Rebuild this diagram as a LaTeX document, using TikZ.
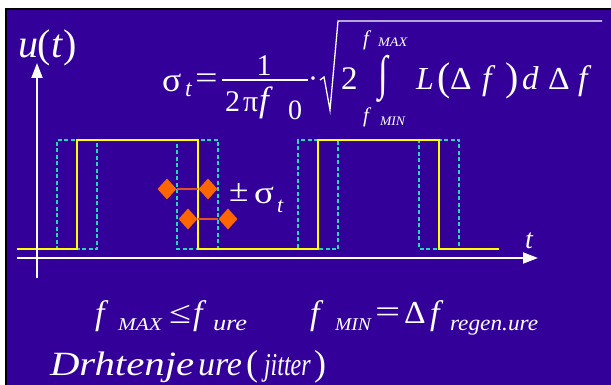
\documentclass[tikz,border=0pt]{standalone}
\usepackage{fontspec}
\setmainfont{Liberation Serif}
\usetikzlibrary{arrows.meta,shapes.geometric}
\definecolor{bg}{RGB}{51,0,153}
\definecolor{sig}{RGB}{255,255,0}
\definecolor{jit}{RGB}{40,215,185}
\definecolor{dia}{RGB}{255,102,0}
\definecolor{dline}{RGB}{230,80,30}
\newcommand\fs[1]{\fontsize{#1}{#1}\selectfont}
\newcommand\sx[2]{\scalebox{#1}[1]{#2}}
\begin{document}
\begin{tikzpicture}[x=1pt,y=-1pt,
  tx/.style={anchor=base west,inner sep=0pt,outer sep=0pt,text=white},
  tc/.style={anchor=base,inner sep=0pt,outer sep=0pt,text=white},
  axis/.style={draw=white,line width=1.8pt,-{Triangle[length=15pt,width=11pt]}},
  yel/.style={draw=sig,line width=1.8pt},
  dsh/.style={draw=jit,line width=1.6pt,dash pattern=on 4pt off 2.5pt},
  dmd/.style={diamond,fill=dia,inner sep=0pt,minimum width=19pt,minimum height=21pt},
  bar/.style={draw=dline,line width=1.6pt}]
\useasboundingbox (0,0) rectangle (611,385);
\fill[white] (0,0) rectangle (611,385);
\fill[black] (5,8) rectangle (611,385);
\fill[bg] (7,10) rectangle (611,385);

% jittered waveforms
\draw[dsh] (17,249) -- (57,249) -- (57,140) -- (177,140) -- (177,249) -- (298,249) -- (298,140) -- (419,140) -- (419,249) -- (499,249);
\draw[dsh] (17,249) -- (97,249) -- (97,140) -- (218,140) -- (218,249) -- (338,249) -- (338,140) -- (459,140) -- (459,249) -- (499,249);
% ideal waveform
\draw[yel] (17,249) -- (77,249) -- (77,140) -- (198,140) -- (198,249) -- (318,249) -- (318,140) -- (439,140) -- (439,249) -- (499,249);

% axes
\coordinate (vb) at (37,278);
\coordinate (vt) at (37,63);
\coordinate (hl) at (17,258);
\coordinate (hr) at (538,258);
\draw[axis] (vb) -- (vt);
\draw[axis] (hl) -- (hr);

% jitter markers
\node[dmd] (d1) at (167,189) {};
\node[dmd] (d2) at (208,189) {};
\node[dmd] (d3) at (188,219) {};
\node[dmd] (d4) at (228,219) {};
\draw[bar] (d1.east) -- (d2.west);
\draw[bar] (d3.east) -- (d4.west);

% labels
\node[tx,font=\fs{40}] (ut) at (18,58) {\textit{u}(\textit{t})};
\node[tx,font=\fs{28}] (tt) at (525,248) {\textit{t}};
\node[tx,font=\fs{32}] (pm) at (229,202) {\sx{1.1}{±}};
\node[tx,font=\fs{32}] (sg) at (254,204) {\sx{1.15}{σ}};
\node[tx,font=\fs{22}] (sgt) at (277,212) {\textit{t}};

% formula
\node[tx,font=\fs{34}] (fs) at (162,92) {\sx{1.05}{σ}};
\node[tx,font=\fs{24}] (fst) at (185,97) {\textit{t}};
\node[tx,font=\fs{32}] (feq) at (195,89) {\sx{1.25}{=}};
\coordinate (fb1) at (222,80);
\coordinate (fb2) at (308,80);
\draw[white,line width=1.8pt] (fb1) -- (fb2);
\node[tc,font=\fs{30}] (fn) at (264,76) {1};
\node[tx,font=\fs{30}] (fd2) at (225,112) {2};
\node[tx,font=\fs{30}] (fdp) at (243,112) {π};
\node[tx,font=\fs{35}] (fdf) at (259,112) {\textit{f}};
\node[tx,font=\fs{28}] (fd0) at (288,120) {0};
\node[tc,font=\fs{30}] (fdot) at (313,89) {·};
\coordinate (r1) at (320,80);
\coordinate (r2) at (324,77);
\coordinate (r3) at (330,110);
\coordinate (r4) at (338,21);
\coordinate (r5) at (602,21);
\draw[white,line width=1.3pt,line join=miter] (r1) -- (r2) -- (r3) -- (r4) -- (r5);
\node[tx,font=\fs{33}] (f2) at (341,90) {2};
\node[inner sep=0pt,text=white,font=\fs{32}] (fint) at (383,79) {\scalebox{1.1}[1.5]{∫}};
\node[tx,font=\fs{21}] (fmaxf) at (363,46) {\textit{f}};
\node[tx,font=\fs{13}] (fmax) at (378,47) {\sx{1.1}{\textit{MAX}}};
\node[tx,font=\fs{21}] (fminf) at (363,123) {\textit{f}};
\node[tx,font=\fs{13}] (fmin) at (380,126) {\sx{1.05}{\textit{MIN}}};
\node[tx,font=\fs{32}] (fL) at (416,90) {\textit{L}};
\node[tx,font=\fs{40}] (fp1) at (437,91) {(};
\node[tx,font=\fs{32}] (fD1) at (450,90) {\sx{1.05}{Δ}};
\node[tx,font=\fs{34}] (ff1) at (482,90) {\textit{f}};
\node[tx,font=\fs{40}] (fp2) at (505,91) {)};
\node[tx,font=\fs{33}] (fd) at (522,90) {\textit{d}};
\node[tx,font=\fs{32}] (fD2) at (548,90) {\sx{1.05}{Δ}};
\node[tx,font=\fs{34}] (ff2) at (578,90) {\textit{f}};

% bottom conditions
\node[tx,font=\fs{34}] (b1f) at (95,324) {\textit{f}};
\node[tx,font=\fs{18}] (b1s) at (118,330) {\sx{1.19}{\textit{MAX}}};
\node[tx,font=\fs{32}] (b1le) at (169,323) {\sx{1.25}{≤}};
\node[tx,font=\fs{34}] (b1g) at (193,324) {\textit{f}};
\node[tx,font=\fs{22}] (b1u) at (213,330) {\sx{1.2}{\textit{ure}}};
\node[tx,font=\fs{34}] (b2f) at (310,324) {\textit{f}};
\node[tx,font=\fs{18}] (b2s) at (335,330) {\sx{1.09}{\textit{MIN}}};
\node[tx,font=\fs{32}] (b2eq) at (375,322) {\sx{1.4}{=}};
\node[tx,font=\fs{32}] (b2D) at (404,323) {\sx{1.05}{Δ}};
\node[tx,font=\fs{34}] (b2g) at (430,324) {\textit{f}};
\node[tx,font=\fs{22}] (b2r) at (450,330) {\sx{1.06}{\textit{regen.ure}}};

% caption
\node[tx,font=\fs{34}] (c1) at (50,375) {\sx{1.2}{\textit{Drhtenje}}};
\node[tx,font=\fs{34}] (c2) at (198,375) {\textit{ure}};
\node[tx,font=\fs{36}] (c3) at (246,375) {(};
\node[tx,font=\fs{32}] (c4) at (264,375) {\sx{0.75}{\textit{jitter}}};
\node[tx,font=\fs{36}] (c5) at (314,375) {)};
\end{tikzpicture}
\end{document}
